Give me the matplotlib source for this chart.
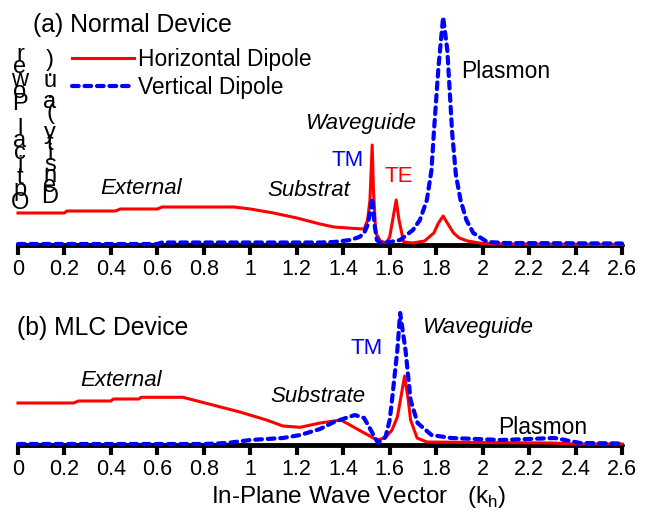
import matplotlib
matplotlib.use("Agg")
import matplotlib.pyplot as plt
import numpy as np

plt.rcParams['font.family'] = ['Liberation Sans', 'DejaVu Sans']
plt.rcParams['mathtext.fontset'] = 'custom'
plt.rcParams['mathtext.rm'] = 'Liberation Sans'

# (a) Normal device
red_a_x = [0, 0.2, 0.21, 0.42, 0.44, 0.6, 0.62, 0.93, 1.0, 1.1, 1.2, 1.3, 1.36, 1.45, 1.49,
           1.505, 1.515, 1.5246, 1.53, 1.54, 1.56, 1.585, 1.60, 1.615, 1.628, 1.64, 1.66,
           1.7, 1.75, 1.79, 1.81, 1.83, 1.848, 1.875, 1.9, 1.935, 2.0, 2.1, 2.6]
red_a_y = [32, 32, 34, 34, 36, 36, 38, 38, 36, 32, 27, 21, 18, 16.5, 16,
           25, 45, 100, 55, 12, 4, 2, 8, 28, 45, 25, 3,
           2, 4, 12, 22, 29, 22, 12, 7, 4, 1.5, 1, 0.5]
blue_a_x = [0, 0.6, 0.62, 1.0, 1.2, 1.3, 1.36, 1.43, 1.47, 1.49, 1.505, 1.515, 1.525, 1.535,
            1.545, 1.56, 1.6, 1.645, 1.7, 1.73, 1.76, 1.78, 1.79, 1.81, 1.83, 1.848, 1.869,
            1.885, 1.905, 1.93, 1.96, 2.02, 2.1, 2.6]
blue_a_y = [1, 1, 2.5, 2.5, 2.5, 2.5, 3, 5, 8, 12, 20, 32, 47, 20,
            5, 2, 3, 5, 15, 25, 45, 75, 112, 178, 228, 195, 112,
            70, 45, 25, 12, 3, 2, 1.5]

# (b) MLC device
red_b_x = [0, 0.24, 0.26, 0.4, 0.41, 0.52, 0.53, 0.71, 0.755, 0.855, 0.955, 1.07, 1.14,
           1.215, 1.3, 1.39, 1.545, 1.58, 1.61, 1.633, 1.65, 1.664, 1.68, 1.69, 1.718,
           1.76, 2.0, 2.3, 2.4, 2.6]
red_b_y = [42, 42, 44, 44, 46, 46, 47.7, 47.7, 45, 39, 33, 25, 19,
           17.7, 22, 25, 5, 7, 15, 28, 50, 69, 45, 25, 7,
           3, 2.5, 2, 1, 1]
blue_b_x = [0, 0.8, 0.9, 1.0, 1.14, 1.215, 1.3, 1.36, 1.45, 1.49, 1.535, 1.55, 1.582, 1.6,
            1.61, 1.633, 1.645, 1.668, 1.69, 1.72, 1.78, 1.865, 2.08, 2.31, 2.42, 2.6]
blue_b_y = [1, 1, 2, 5, 7, 10, 16, 23, 30, 27, 8, 2, 8, 25,
            45, 95, 132, 95, 45, 22, 10, 7, 5, 7, 2, 1.5]

ticks = [0, 0.2, 0.4, 0.6, 0.8, 1.0, 1.2, 1.4, 1.6, 1.8, 2.0, 2.2, 2.4, 2.6]
tick_labels = ['0', '0.2', '0.4', '0.6', '0.8', '1', '1.2', '1.4', '1.6', '1.8', '2',
               '2.2', '2.4', '2.6']

W, H = 648, 518
fig = plt.figure(figsize=(W / 100, H / 100), dpi=100)


def px_axes(left, top, right, bottom):
    return fig.add_axes([left / W, 1 - bottom / H, (right - left) / W, (bottom - top) / H])


ax1 = px_axes(18, 0, 622, 245)
ax2 = px_axes(18, 290, 622, 445)
ax1.set_ylim(0, 245)
ax2.set_ylim(0, 155)

for ax, rx, ry, bx, by in [(ax1, red_a_x, red_a_y, blue_a_x, blue_a_y),
                           (ax2, red_b_x, red_b_y, blue_b_x, blue_b_y)]:
    ax.plot(rx, ry, color='#ff0000', lw=2.2, label='Horizontal Dipole', clip_on=False, zorder=3)
    ax.plot(bx, by, color='#0000ff', lw=3.0, ls=(0, (1.6, 1.4)), dash_capstyle='round',
            label='Vertical Dipole', clip_on=False, zorder=4)
    ax.set_xlim(0, 2.6)
    ax.set_xticks(ticks)
    ax.set_xticklabels(tick_labels, fontsize=15.5)
    ax.set_yticks([])
    for s in ['top', 'left', 'right']:
        ax.spines[s].set_visible(False)
    ax.spines['bottom'].set_linewidth(3.5)
    ax.spines['bottom'].set_capstyle('round')
    ax.tick_params(axis='x', direction='out', length=7, width=3, pad=3)
    ax.patch.set_alpha(0)

leg = ax1.legend(loc='upper left', bbox_to_anchor=(72 / W, 1 - 48 / H), bbox_transform=fig.transFigure,
                 frameon=False, fontsize=16.4, handlelength=2.7, handletextpad=0.2,
                 labelspacing=0.2, borderpad=0, borderaxespad=0)

fig.text(33 / W, 1 - 25 / H, '(a) Normal Device', fontsize=17.8, va='center', ha='left')
fig.text(17 / W, 1 - 328 / H, '(b) MLC Device', fontsize=17.8, va='center', ha='left')

it = dict(fontsize=16, style='italic', ha='center', va='center')
ax1.text(0.53, 57, 'External', **it)
ax1.text(1.25, 54, 'Substrat', **it)
ax1.text(1.475, 121, 'Waveguide', **it)
ax1.text(1.42, 85, 'TM', fontsize=16, color='#0000ff', ha='center', va='center')
ax1.text(1.64, 68, 'TE', fontsize=16, color='#ff0000', ha='center', va='center')
ax1.text(2.10, 173, 'Plasmon', fontsize=16.5, ha='center', va='center')

ax2.text(0.445, 64, 'External', **it)
ax2.text(1.29, 49, 'Substrate', **it)
ax2.text(1.98, 117, 'Waveguide', **it)
ax2.text(1.50, 96, 'TM', fontsize=16, color='#0000ff', ha='center', va='center')
ax2.text(2.26, 18, 'Plasmon', fontsize=16.5, ha='center', va='center')

fig.text(359 / W, 1 - 497 / H, r'In-Plane Wave Vector   (k$_\mathregular{h}$)', fontsize=17.5,
         ha='center', va='center')

# y label drawn as stacked characters, like the original
col1 = list('Optical Power')[::-1]
col2 = list('Density (a.u.)')[::-1]
for i, ch in enumerate(col1):
    fig.text(20 / W, 1 - (55 + i * 12.3) / H, ch, fontsize=17, ha='center', va='center')
for i, ch in enumerate(col2):
    fig.text(50 / W, 1 - (60 + i * 10.5) / H, ch, fontsize=17, ha='center', va='center')

fig.savefig('out.png', dpi=100)
